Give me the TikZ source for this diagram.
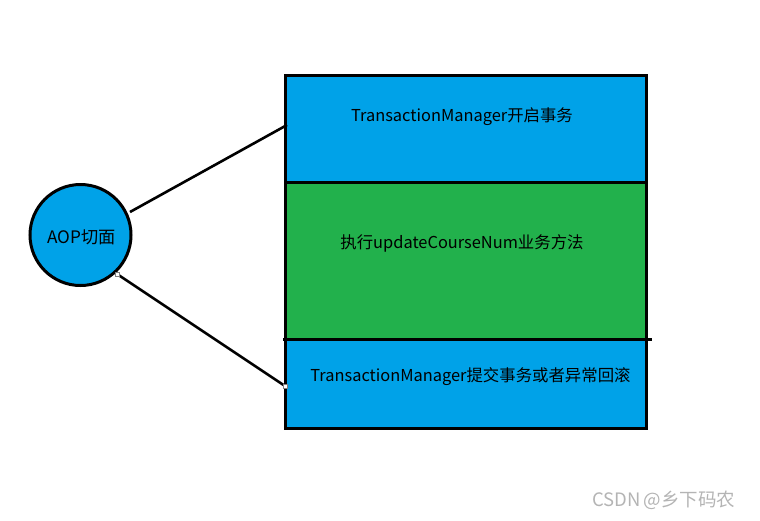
\documentclass[tikz,border=0pt]{standalone}
\usepackage{fontspec}
\setmainfont{Noto Sans CJK SC}
\definecolor{pblue}{HTML}{00A2E8}
\definecolor{pgreen}{HTML}{22B14C}
\definecolor{wm}{HTML}{B4B4B4}
\begin{document}
\begin{tikzpicture}[x=1pt,y=-1pt,
  txt/.style={font=\fontsize{16.4}{19}\selectfont, text=black, inner sep=0pt},
  edge/.style={line width=2.6pt},
  handle/.style={draw=gray, fill=white, line width=0.5pt, minimum size=4pt, inner sep=0pt}]
\useasboundingbox (0,0) rectangle (760,520);
% boxes
\fill[pblue] (285,75) rectangle (646,182);
\fill[pgreen] (285,182) rectangle (646,339);
\fill[pblue] (285,339) rectangle (646,428);
\draw[line width=3pt] (285,75) rectangle (646,428);
\draw[line width=3pt] (285,182) -- (648,182);
\draw[line width=3pt] (283,339) -- (652,339);
% circle
\node[circle, draw, line width=3pt, fill=pblue, minimum size=101pt, inner sep=0pt] (aop) at (80.5,235) {};
\node[txt, font=\fontsize{17.2}{20}\selectfont] at (81.5,237) {AOP切面};
% anchor points
\coordinate (a1) at (130,212);
\coordinate (b1) at (287,125);
\coordinate (a2) at (117,274);
\coordinate (b2) at (285,386);
\draw[edge] (a1) -- (b1);
\draw[edge] (a2) -- (b2);
\node[handle] at (a2) {};
\node[handle] at (b2) {};
% texts
\node[txt] (t1) at (462,117) {TransactionManager开启事务};
\node[txt] (t2) at (462,243) {执行updateCourseNum业务方法};
\node[txt] (t3) at (470.5,377) {TransactionManager提交事务或者异常回滚};
\node[font=\fontsize{18.5}{21}\selectfont, text=wm, inner sep=0pt, anchor=west] (w) at (592,500) {CSDN\hspace{3pt}@乡下码农};
\end{tikzpicture}
\end{document}
